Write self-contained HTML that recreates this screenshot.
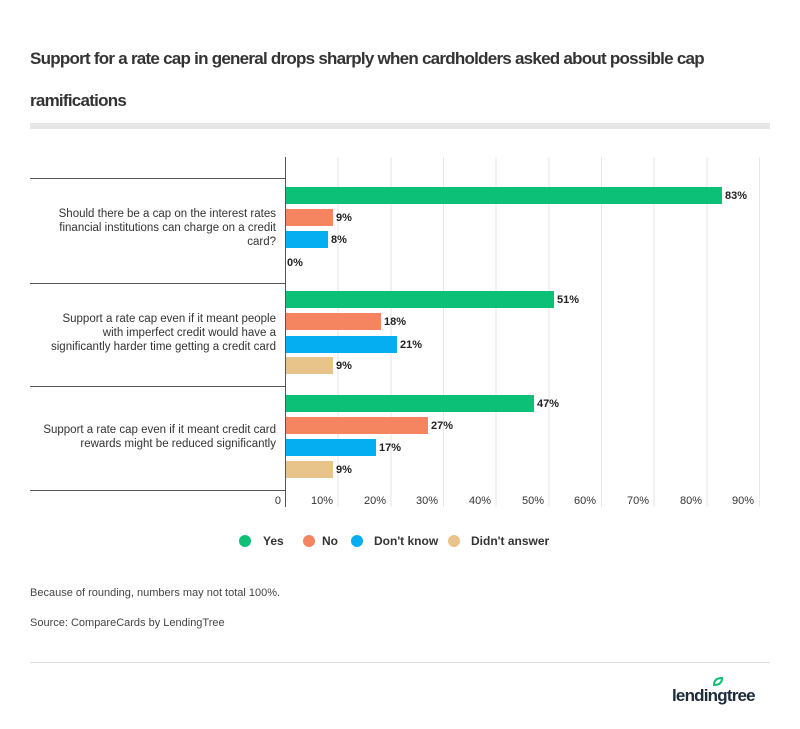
<!DOCTYPE html>
<html><head><meta charset="utf-8"><style>
body{margin:0;background:#fff;font-family:"Liberation Sans",sans-serif;}
</style></head><body>
<svg width="800" height="724" xmlns="http://www.w3.org/2000/svg" font-family="Liberation Sans, sans-serif">
<rect width="800" height="724" fill="#fff"/>
<text x="30" y="64" font-size="17" font-weight="bold" fill="#333" letter-spacing="-0.75">Support for a rate cap in general drops sharply when cardholders asked about possible cap</text>
<text x="30" y="106" font-size="17" font-weight="bold" fill="#333" letter-spacing="-0.75">ramifications</text>
<rect x="30" y="123" width="740" height="6" fill="#e6e6e6"/>
<g stroke="#e6e6e6" stroke-width="1">
<line x1="338" y1="157" x2="338" y2="507"/><line x1="391" y1="157" x2="391" y2="507"/>
<line x1="443.5" y1="157" x2="443.5" y2="507"/><line x1="496" y1="157" x2="496" y2="507"/>
<line x1="549" y1="157" x2="549" y2="507"/><line x1="601.5" y1="157" x2="601.5" y2="507"/>
<line x1="654" y1="157" x2="654" y2="507"/><line x1="707" y1="157" x2="707" y2="507"/>
<line x1="759.5" y1="157" x2="759.5" y2="507"/>
</g>
<g stroke="#555" stroke-width="1">
<line x1="285.5" y1="157" x2="285.5" y2="507"/>
<line x1="30" y1="178.5" x2="285" y2="178.5"/><line x1="30" y1="283.5" x2="285" y2="283.5"/>
<line x1="30" y1="386.5" x2="285" y2="386.5"/><line x1="30" y1="490.5" x2="285" y2="490.5"/>
</g>
<g>
<rect x="286" y="187" width="436" height="17" fill="#0cc078"/>
<rect x="286" y="209" width="47" height="17" fill="#f58460"/>
<rect x="286" y="231" width="42" height="17" fill="#05aef0"/>
<rect x="286" y="291" width="268" height="17" fill="#0cc078"/>
<rect x="286" y="313" width="95" height="17" fill="#f58460"/>
<rect x="286" y="336" width="111" height="17" fill="#05aef0"/>
<rect x="286" y="357" width="47" height="17" fill="#e8c38a"/>
<rect x="286" y="395" width="248" height="17" fill="#0cc078"/>
<rect x="286" y="417" width="142" height="17" fill="#f58460"/>
<rect x="286" y="439" width="90" height="17" fill="#05aef0"/>
<rect x="286" y="461" width="47" height="17" fill="#e8c38a"/>
</g>
<g font-size="11" font-weight="bold" fill="#222">
<text x="725" y="199">83%</text><text x="336" y="221">9%</text><text x="331" y="243">8%</text><text x="287" y="266">0%</text>
<text x="557" y="303">51%</text><text x="384" y="325">18%</text><text x="400" y="348">21%</text><text x="336" y="369">9%</text>
<text x="537" y="407">47%</text><text x="431" y="429">27%</text><text x="379" y="451">17%</text><text x="336" y="473">9%</text>
</g>
<g font-size="11.5" fill="#333" text-anchor="end">
<text x="276" y="217">Should there be a cap on the interest rates</text>
<text x="276" y="231">financial institutions can charge on a credit</text>
<text x="276" y="245">card?</text>
<text x="276" y="322">Support a rate cap even if it meant people</text>
<text x="276" y="336">with imperfect credit would have a</text>
<text x="276" y="350">significantly harder time getting a credit card</text>
<text x="276" y="433">Support a rate cap even if it meant credit card</text>
<text x="276" y="447">rewards might be reduced significantly</text>
</g>
<g font-size="11" fill="#333" text-anchor="end">
<text x="281" y="504">0</text><text x="333" y="504">10%</text><text x="386" y="504">20%</text>
<text x="438" y="504">30%</text><text x="491" y="504">40%</text><text x="544" y="504">50%</text>
<text x="596" y="504">60%</text><text x="649" y="504">70%</text><text x="702" y="504">80%</text>
<text x="754" y="504">90%</text>
</g>
<g font-size="12" font-weight="bold" fill="#333">
<circle cx="245" cy="541" r="6" fill="#0cc078"/><text x="263" y="545">Yes</text>
<circle cx="309" cy="541" r="6" fill="#f58460"/><text x="322" y="545">No</text>
<circle cx="357" cy="541" r="6" fill="#05aef0"/><text x="374" y="545">Don't know</text>
<circle cx="454" cy="541" r="6" fill="#e8c38a"/><text x="471" y="545">Didn't answer</text>
</g>
<text x="30" y="596" font-size="11" fill="#444">Because of rounding, numbers may not total 100%.</text>
<text x="30" y="626" font-size="11" fill="#444">Source: CompareCards by LendingTree</text>
<line x1="30" y1="662.5" x2="770" y2="662.5" stroke="#ddd"/>
<path d="M714 685 q0 -7 8 -7 q0 7 -8 7z" fill="#fff" stroke="#0cc078" stroke-width="2"/>
<text x="672" y="701" font-size="17" font-weight="bold" fill="#1d2b3a" letter-spacing="-0.8">lendingtree</text>
</svg>
</body></html>
